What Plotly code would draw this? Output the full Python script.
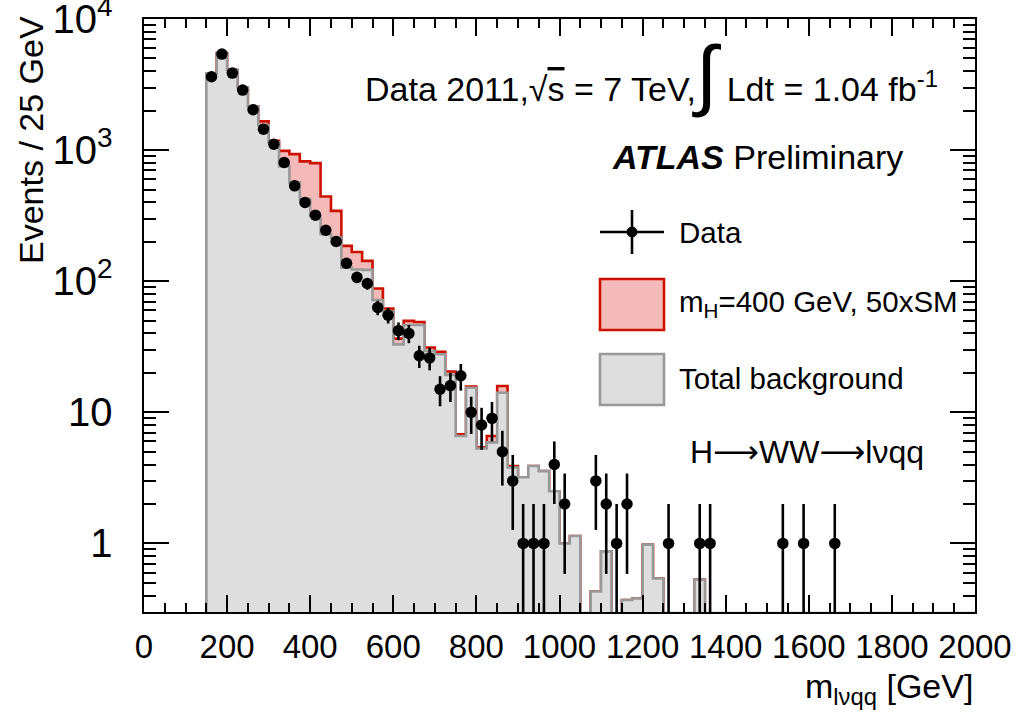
import numpy as np
import plotly.graph_objects as go

# ---------------- data ----------------
bin_low = 150.0      # GeV, first bin edge
bin_width = 25.0     # GeV
n_bins = 74          # 150 -> 2000 GeV

# observed events per bin (bins 150-175, 175-200, ...)
data_counts = [
    3630, 5400, 3870, 2870, 2030, 1445, 1110, 805, 534, 399,
    319, 245, 201, 137, 107, 96, 63, 55, 42, 40,
    27, 26, 15, 16, 19, 10, 8, 9, 5, 3,
    1, 1, 1, 4, 2, 0, 0, 3, 2, 1,
    2, 0, 0, 0, 1, 0, 0, 1, 1, 0,
    0, 0, 0, 0, 0, 1, 0, 1, 0, 0,
    1, 0, 0, 0, 0, 0, 0, 0, 0, 0,
    0, 0, 0, 0,
]

# total background per bin
background = [
    3850, 5500, 4100, 3000, 2150, 1550, 1145, 750, 567, 423,
    315, 228, 215, 127, 123, 122, 72, 59, 33, 46.4,
    46.4, 29.4, 27.7, 19.3, 6.6, 15.4, 5.3, 5.9, 14.1, 3.8,
    3.2, 3.9, 3.56, 2.5, 1.0, 1.14, 0, 0.43, 0.87, 0,
    0.37, 0.38, 0.98, 0.54, 0, 0, 0, 0.53, 0, 0,
    0, 0, 0, 0, 0, 0, 0, 0, 0, 0,
    0, 0, 0, 0, 0, 0, 0, 0, 0, 0,
    0, 0, 0, 0,
]

# signal m_H = 400 GeV, 50 x SM (stacked on the background)
signal = [
    0, 0, 0, 0, 0, 106, 35, 237, 365, 397,
    481, 215, 129, 59, 44, 21, 16, 3, 3.5, 3.4,
    2.5, 1.8, 1.3, 1.2, 0.2, 0.3, 0.1, 0.7, 1.8, 0.1,
    0, 0, 0, 0, 0, 0, 0, 0, 0, 0,
    0, 0, 0, 0, 0, 0, 0, 0, 0, 0,
    0, 0, 0, 0, 0, 0, 0, 0, 0, 0,
    0, 0, 0, 0, 0, 0, 0, 0, 0, 0,
    0, 0, 0, 0,
]

x_tick_values = [0, 200, 400, 600, 800, 1000, 1200, 1400, 1600, 1800, 2000]

# ---------------- geometry / style ----------------
W, H = 1016, 716
ML, MR, MT, MB = 144, 41, 19, 104
PW, PH = W - ML - MR, H - MT - MB
Y_MIN, Y_MAX = 0.3, 1e4
FONT = "Liberation Sans, Arial, Helvetica, sans-serif"

GREY_FILL = "#dedede"
GREY_LINE = "#999999"
RED_LINE = "#cc1100"
PINK_FILL = "#f4b9b9"


def px_x(px):
    return (px - ML) / PW


def px_y(py):
    return (H - MB - py) / PH


edges = bin_low + bin_width * np.arange(n_bins + 1)
centers = 0.5 * (edges[:-1] + edges[1:])

bg = np.array(background, float)
sig = np.array(signal, float)
obs = np.array(data_counts, float)
total = bg + sig


def step_xy(vals, floor=Y_MIN):
    v = np.maximum(np.asarray(vals, float), floor)
    xs = np.repeat(edges, 2)
    ys = np.concatenate([[floor], np.repeat(v, 2), [floor]])
    return xs, ys


fig = go.Figure()

# stacked: total (signal + background) first, background on top
xs, ys = step_xy(total, floor=0.29)
fig.add_trace(go.Scatter(x=xs, y=ys, mode="lines", fill="toself",
                         fillcolor=PINK_FILL, line=dict(color=RED_LINE, width=2.6),
                         showlegend=False, hoverinfo="skip"))
xs, ys = step_xy(bg, floor=0.295)
fig.add_trace(go.Scatter(x=xs, y=ys, mode="lines", fill="toself",
                         fillcolor=GREY_FILL, line=dict(color=GREY_LINE, width=2.6),
                         showlegend=False, hoverinfo="skip"))

# data points with sqrt(N) errors, empty bins not drawn
mask = obs > 0
fig.add_trace(go.Scatter(
    x=centers[mask], y=obs[mask], mode="markers",
    marker=dict(color="black", size=11.5, symbol="circle"),
    error_y=dict(type="data", array=np.sqrt(obs[mask]), symmetric=True,
                 color="black", thickness=2.6, width=0),
    showlegend=False, hoverinfo="skip"))

axis_common = dict(showline=True, linecolor="black", linewidth=2, mirror="allticks",
                   ticks="inside", tickcolor="black", showgrid=False, zeroline=False,
                   automargin=False, ticklabeloverflow="allow")

fig.update_xaxes(range=[0, 2000], tickvals=x_tick_values, ticklen=17, tickwidth=2,
                 minor=dict(dtick=50, tick0=0, ticks="inside", ticklen=9, tickwidth=1.5,
                            tickcolor="black", showgrid=False),
                 ticklabelstandoff=4, tickfont=dict(size=33, color="black", family=FONT),
                 **axis_common)
fig.update_yaxes(type="log", range=[np.log10(Y_MIN), np.log10(Y_MAX) + 1e-6], dtick=1,
                 exponentformat="power", ticklen=25, tickwidth=2,
                 minor=dict(dtick="D1", ticks="inside", ticklen=12, tickwidth=1.5,
                            tickcolor="black", showgrid=False),
                 ticklabelstandoff=23, tickfont=dict(size=32, color="black", family=FONT),
                 **axis_common)

ARROW = "<span style='font-family:DejaVu Sans'>\u27f6</span>"

annotations = []
# axis titles
annotations.append(dict(xref="paper", yref="paper", x=px_x(31), y=px_y(14),
                        xanchor="center", yanchor="top", textangle=-90,
                        text="Events / 25 GeV", showarrow=False,
                        font=dict(size=34, family=FONT, color="black")))
annotations.append(dict(xref="paper", yref="paper", x=px_x(975), y=px_y(688),
                        xanchor="right", yanchor="middle",
                        text="m<sub>l\u03bdqq</sub> [GeV]", showarrow=False,
                        font=dict(size=34, family=FONT, color="black")))
# labels
annotations.append(dict(xref="paper", yref="paper", x=px_x(940), y=px_y(74),
                        xanchor="right", yanchor="middle",
                        text="Data 2011,\u221a<span style='text-decoration:overline'>s</span> = 7 TeV,"
                             "<span style='font-size:78px'>\u222b</span> Ldt = 1.04 fb<sup>-1</sup>",
                        showarrow=False, font=dict(size=34, family=FONT, color="black")))
annotations.append(dict(xref="paper", yref="paper", x=px_x(757), y=px_y(157),
                        xanchor="center", yanchor="middle",
                        text="<b><i>ATLAS</i></b> Preliminary",
                        showarrow=False, font=dict(size=34, family=FONT, color="black")))
annotations.append(dict(xref="paper", yref="paper", x=px_x(807), y=px_y(452),
                        xanchor="center", yanchor="middle",
                        text="H" + ARROW + "WW" + ARROW + "l\u03bdqq",
                        showarrow=False, font=dict(size=32, family=FONT, color="black")))
# legend texts
for txt, py in [("Data", 232), ("m<sub>H</sub>=400 GeV, 50xSM", 303), ("Total background", 378)]:
    annotations.append(dict(xref="paper", yref="paper", x=px_x(677), y=px_y(py),
                            xanchor="left", yanchor="middle", text=txt, showarrow=False,
                            font=dict(size=29.5, family=FONT, color="black")))

shapes = []
# legend: data symbol
shapes.append(dict(type="line", xref="paper", yref="paper", x0=px_x(600), x1=px_x(664),
                   y0=px_y(232), y1=px_y(232), line=dict(color="black", width=2.6)))
shapes.append(dict(type="line", xref="paper", yref="paper", x0=px_x(632), x1=px_x(632),
                   y0=px_y(210), y1=px_y(254), line=dict(color="black", width=2.6)))
shapes.append(dict(type="circle", xref="paper", yref="paper", x0=px_x(627), x1=px_x(637),
                   y0=px_y(227), y1=px_y(237), fillcolor="black", line=dict(color="black", width=1)))
# legend: signal box and background box
shapes.append(dict(type="rect", xref="paper", yref="paper", x0=px_x(600), x1=px_x(664),
                   y0=px_y(279), y1=px_y(330), fillcolor=PINK_FILL,
                   line=dict(color=RED_LINE, width=2.6)))
shapes.append(dict(type="rect", xref="paper", yref="paper", x0=px_x(600), x1=px_x(664),
                   y0=px_y(354), y1=px_y(405), fillcolor=GREY_FILL,
                   line=dict(color=GREY_LINE, width=2.6)))

fig.update_layout(width=W, height=H, margin=dict(l=ML, r=MR, t=MT, b=MB),
                  plot_bgcolor="white", paper_bgcolor="white",
                  font=dict(family=FONT, color="black"),
                  showlegend=False, annotations=annotations, shapes=shapes)

fig.write_html("out.html")
